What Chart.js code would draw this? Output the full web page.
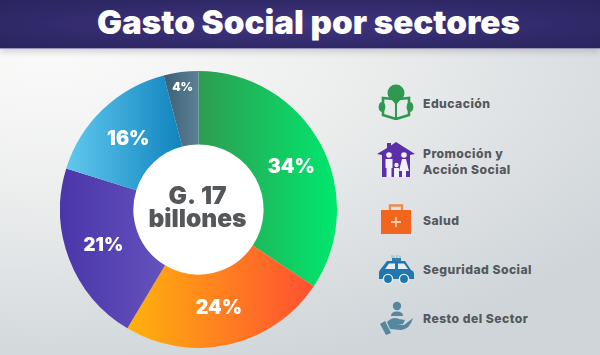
<!DOCTYPE html>
<html>
<head>
<meta charset="utf-8">
<script src="https://cdn.jsdelivr.net/npm/chart.js@4"></script>
<style>
    html, body { margin: 0; padding: 0; }
    body {
        width: 600px; height: 355px; overflow: hidden; position: relative;
        font-family: Inter, sans-serif;
        background: radial-gradient(ellipse 700px 340px at 8% 12%, #fbfbfa 0%, #eef0ef 40%, #e0e3e5 68%, #cfd5d9 100%);
    }
    #header {
        position: absolute; left: 0; top: 0; width: 600px; height: 48px;
        background: radial-gradient(ellipse at 50% 50%, #41357f 0%, #2e2866 75%, #2a2560 100%);
        border-bottom: 1px solid #9a95b5;
        box-shadow: 0 3px 6px rgba(120,120,130,0.3);
        color: #fff; font-weight: 900; font-size: 33.2px; line-height: 44px;
        text-align: center; text-indent: 17px;
    }
    #wrap { position: absolute; left: 60px; top: 71px; width: 277px; height: 277px; }
    .lbl {
        position: absolute; left: 423px; color: #55585b; font-weight: 800;
        font-size: 12.2px; line-height: 16px; letter-spacing: 0.45px; white-space: nowrap;
    }
    svg { position: absolute; }
</style>
</head>
<body>
<div id="header">Gasto Social por sectores</div>
<div id="wrap"><canvas id="pie"></canvas></div>

<svg style="left:378px;top:84px" width="36" height="36" viewBox="0 0 36 36">
    <circle cx="18" cy="9" r="8.5" fill="#2f9a4f"/>
    <path d="M5 14 L15 15 L18 19 L21 15 L31 14 L31 31 L18 35 L5 31 Z" fill="none" stroke="#2f9a4f" stroke-width="2.6"/>
    <path d="M18 18 V35" stroke="#2f9a4f" stroke-width="2"/>
    <ellipse cx="4" cy="23" rx="3.4" ry="5" fill="#2f9a4f"/>
    <ellipse cx="32" cy="23" rx="3.4" ry="5" fill="#2f9a4f"/>
</svg>
<svg style="left:377px;top:141px" width="39" height="37" viewBox="0 0 39 37">
    <path d="M0 13 L10 7 V2 H14 V4.5 L19 1 L38 13 L33 14 L33 36 L5 36 L5 14 Z" fill="#5b2fa5"/>
    <circle cx="12" cy="14" r="2.8" fill="#f4f0fa"/><path d="M8.5 18 H15.5 V27 H14.5 V36 H9.5 V27 H8.5 Z" fill="#f4f0fa"/>
    <circle cx="27" cy="14" r="2.8" fill="#f4f0fa"/><path d="M25 18 H29 L32 30 H22 Z M25 30 H29 V36 H25 Z" fill="#f4f0fa"/>
    <circle cx="19.5" cy="24" r="2.2" fill="#f4f0fa"/><path d="M17 27 H22 V36 H17 Z" fill="#f4f0fa"/>
</svg>
<svg style="left:381px;top:204px" width="31" height="31" viewBox="0 0 31 31">
    <path d="M9 6 V1.5 H21 V6" fill="none" stroke="#f28a4e" stroke-width="2.4"/>
    <rect x="0" y="6" width="30" height="24" fill="#f2651e"/>
    <path d="M15 13 V23 M10 18 H20" stroke="#ffc9a4" stroke-width="1.8"/>
</svg>
<svg style="left:378px;top:254px" width="37" height="30" viewBox="0 0 37 30">
    <path d="M14 1 V4 M16 1.5 L16 4 M19 1 V4 M22 1.5 V4" stroke="#7fb8d6" stroke-width="1"/>
    <rect x="14" y="4" width="9" height="3" fill="#2f7fb0"/>
    <path d="M2 16 L9 7 H27 L33 16 Q36 17 36 20 V25 H1 V19 Q1 17 2 16 Z" fill="#1f77ad"/>
    <path d="M7 15 L11 9.5 H17 V15 Z M20 15 V9.5 H26 L30 15 Z" fill="#e7eef2"/>
    <circle cx="10" cy="25" r="4.6" fill="#1f77ad" stroke="#e7eef2" stroke-width="1.4"/>
    <circle cx="26" cy="25" r="4.6" fill="#1f77ad" stroke="#e7eef2" stroke-width="1.4"/>
</svg>
<svg style="left:380px;top:301px" width="34" height="35" viewBox="0 0 34 35">
    <circle cx="17" cy="5" r="4.2" fill="#55879f"/>
    <path d="M11 15 Q11 10.5 17 10.5 Q23 10.5 23 15 Z" fill="#55879f"/>
    <path d="M7 21 Q13 15 19 18 L25 19 L23 23 L17 23 L24 24 L33 17 Q30 28 21 29 L10 28 Z" fill="#55879f"/>
    <path d="M0 23 L5 20 L11 32 L6 34 Z" fill="#55879f"/>
</svg>

<div class="lbl" style="top:96px">Educación</div>
<div class="lbl" style="top:146px">Promoción y<br>Acción Social</div>
<div class="lbl" style="top:213px">Salud</div>
<div class="lbl" style="top:262px">Seguridad Social</div>
<div class="lbl" style="top:311px">Resto del Sector</div>

<script>
    // orden de las porciones en el grafico, en sentido horario desde arriba
    const sectores = ['Educación', 'Salud', 'Promoción y Acción Social', 'Seguridad Social', 'Resto del Sector'];
    const porcentajes = [34, 24, 21, 16, 4];
    const centro = ['G. 17', 'billones'];

    const coloresIni = ['#2e9c50', '#ffb80a', '#4a36a9', '#62c9ef', '#3d6277'];
    const coloresFin = ['#00e86e', '#ff4f32', '#6452bd', '#0e82bd', '#5c8095'];
    // inicio y fin del degradado, como fraccion del ancho del grafico
    const gradIni = [0.5, 0.2, 0, 0.02, 0.38];
    const gradFin = [1, 0.92, 0.38, 0.45, 0.5];
    const tamLetra = [19.5, 19.5, 18.5, 19.5, 12];
    const ajusteX = [3, -2, 0, 0, -3];
    const ajusteY = [6, -1, 0, 3, -21];

    const pluginTextos = {
        id: 'textos',
        beforeDatasetsDraw(chart) {
            const ctx = chart.ctx;
            const arc = chart.getDatasetMeta(0).data[0];
            ctx.save();
            ctx.fillStyle = '#fff';
            ctx.beginPath();
            ctx.arc(arc.x, arc.y, arc.innerRadius + 1, 0, Math.PI * 2);
            ctx.fill();
            ctx.restore();
        },
        afterDatasetsDraw(chart) {
            const ctx = chart.ctx;
            const arcos = chart.getDatasetMeta(0).data;
            ctx.save();
            ctx.textAlign = 'center';
            ctx.textBaseline = 'middle';
            ctx.fillStyle = '#fff';
            arcos.forEach((a, i) => {
                const p = a.tooltipPosition();
                ctx.font = `900 ${tamLetra[i]}px Inter`;
                ctx.fillText(porcentajes[i] + '%', p.x + ajusteX[i], p.y + ajusteY[i]);
            });
            ctx.fillStyle = '#55585b';
            ctx.font = '900 24.5px Inter';
            ctx.fillText(centro[0], arcos[0].x - 1, arcos[0].y - 13);
            ctx.fillText(centro[1], arcos[0].x - 1, arcos[0].y + 10);
            ctx.restore();
        }
    };

    new Chart(document.getElementById('pie'), {
        type: 'doughnut',
        data: {
            labels: sectores,
            datasets: [{
                data: porcentajes,
                borderWidth: 0,
                backgroundColor(c) {
                    const area = c.chart.chartArea;
                    if (!area) return coloresIni[c.dataIndex];
                    const g = c.chart.ctx.createLinearGradient(
                        area.width * gradIni[c.dataIndex], 0, area.width * gradFin[c.dataIndex], 0);
                    g.addColorStop(0, coloresIni[c.dataIndex]);
                    g.addColorStop(1, coloresFin[c.dataIndex]);
                    return g;
                }
            }]
        },
        options: {
            responsive: true,
            maintainAspectRatio: false,
            animation: false,
            cutout: '47%',
            plugins: { legend: { display: false }, tooltip: { enabled: false } }
        },
        plugins: [pluginTextos]
    });
</script>
</body>
</html>
